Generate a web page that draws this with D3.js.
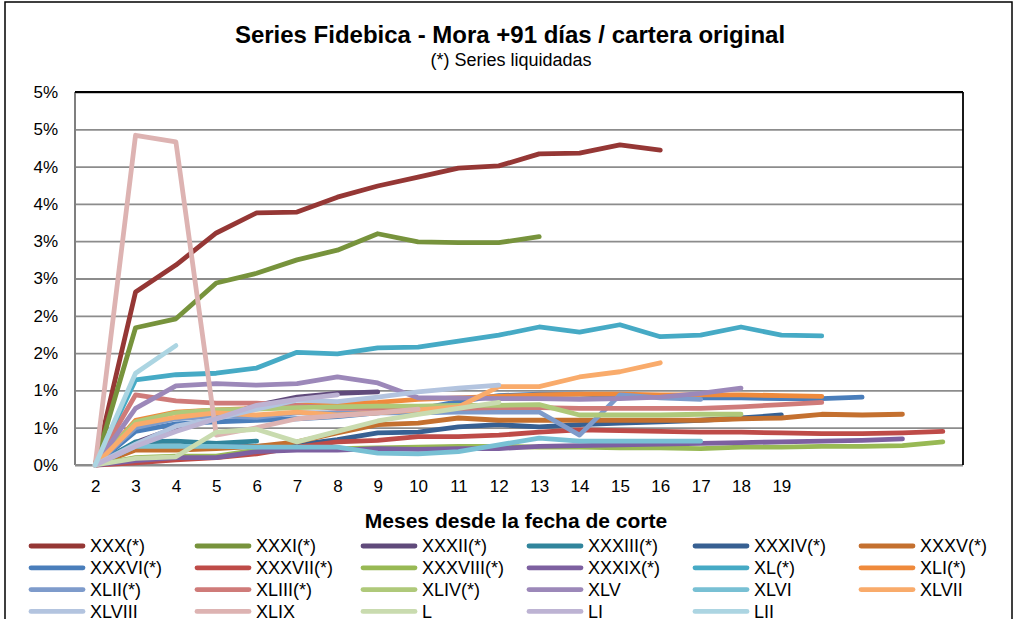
<!DOCTYPE html>
<html>
<head>
<meta charset="utf-8">
<script src="https://cdn.jsdelivr.net/npm/d3@7/dist/d3.min.js"></script>
<style>
body{margin:0;background:#fff;}
text{font-family:Arial,"Liberation Sans",sans-serif;fill:#000;}
</style>
</head>
<body>
<div id="chart"></div>
<script>
// meses desde la fecha de corte (solo se rotulan 2..19)
var meses=[2,3,4,5,6,7,8,9,10,11,12,13,14,15,16,17,18,19,20,21,22,23];
var etiquetasX=["2","3","4","5","6","7","8","9","10","11","12","13","14","15","16","17","18","19","","","",""];
var ticksY=[0,0.5,1,1.5,2,2.5,3,3.5,4,4.5,5];
var etiquetasY=["0%","1%","1%","2%","2%","3%","3%","4%","4%","5%","5%"];

var nombres=["XXX(*)","XXXI(*)","XXXII(*)","XXXIII(*)","XXXIV(*)","XXXV(*)",
    "XXXVI(*)","XXXVII(*)","XXXVIII(*)","XXXIX(*)","XL(*)","XLI(*)",
    "XLII(*)","XLIII(*)","XLIV(*)","XLV","XLVI","XLVII",
    "XLVIII","XLIX","L","LI","LII"];

// mora +91 / cartera original, en %, desde el mes 2
var xxx=[0,2.32,2.68,3.11,3.38,3.39,3.59,3.74,3.86,3.98,4.01,4.17,4.18,4.29,4.22];
var xxxi=[0,1.84,1.96,2.44,2.57,2.75,2.88,3.10,2.99,2.98,2.98,3.06];
var xxxii=[0,0.30,0.50,0.62,0.80,0.91,0.96,0.98];
var xxxiii=[0,0.31,0.32,0.29,0.32];
var xxxiv=[0,0.22,0.22,0.25,0.25,0.27,0.34,0.43,0.44,0.51,0.54,0.51,0.54,0.56,0.58,0.60,0.63,0.67];
var xxxv=[0,0.20,0.20,0.22,0.25,0.31,0.43,0.54,0.56,0.63,0.60,0.60,0.60,0.60,0.60,0.60,0.62,0.63,0.68,0.67,0.68];
var xxxvi=[0,0.45,0.55,0.58,0.60,0.62,0.65,0.70,0.75,0.85,0.93,0.95,0.95,0.93,0.92,0.90,0.90,0.89,0.89,0.91];
var xxxvii=[0,0.03,0.07,0.10,0.15,0.24,0.31,0.33,0.38,0.38,0.40,0.44,0.47,0.46,0.45,0.44,0.44,0.43,0.42,0.42,0.43,0.45];
var xxxviii=[0,0.10,0.12,0.12,0.20,0.22,0.22,0.23,0.24,0.25,0.25,0.24,0.24,0.23,0.23,0.22,0.24,0.24,0.25,0.25,0.26,0.31];
var xxxix=[0,0.06,0.10,0.10,0.18,0.20,0.20,0.22,0.21,0.22,0.22,0.25,0.26,0.27,0.28,0.29,0.30,0.31,0.32,0.33,0.35];
var xl=[0,1.14,1.21,1.23,1.30,1.51,1.49,1.57,1.58,1.66,1.74,1.85,1.78,1.88,1.72,1.74,1.85,1.74,1.73];
var xli=[0,0.60,0.71,0.74,0.76,0.80,0.83,0.84,0.88,0.90,0.92,0.94,0.95,0.95,0.94,0.94,0.94,0.93,0.92];
var xlii=[0,0.50,0.62,0.66,0.64,0.70,0.70,0.70,0.70,0.71,0.71,0.71,0.40,0.94,0.90,0.88];
var xliii=[0,0.94,0.86,0.83,0.83,0.80,0.76,0.76,0.76,0.76,0.77,0.77,0.76,0.76,0.76,0.76,0.78,0.81,0.84];
var xliv=[0,0.58,0.70,0.74,0.75,0.77,0.78,0.79,0.79,0.80,0.80,0.81,0.67,0.67,0.67,0.68,0.68];
var xlv=[0,0.76,1.06,1.09,1.07,1.09,1.18,1.10,0.90,0.90,0.89,0.89,0.88,0.89,0.91,0.96,1.03];
var xlvi=[0,0.25,0.25,0.25,0.24,0.24,0.24,0.16,0.15,0.18,0.27,0.36,0.32,0.32,0.32,0.32];
var xlvii=[0,0.54,0.64,0.70,0.67,0.71,0.67,0.70,0.74,0.78,1.05,1.05,1.18,1.25,1.37];
var xlviii=[0,0.28,0.52,0.62,0.75,0.87,0.85,0.91,0.98,1.03,1.07];
var xlix=[0,4.42,4.33,0.40,0.50,0.62,0.66,0.70,0.75];
var l=[0,0.09,0.11,0.44,0.48,0.31,0.45,0.59,0.68,0.76,0.84];
var li=[0,0.25,0.45,0.62,0.80,0.88,0.94];
var lii=[0,1.23,1.60];

var valores=[xxx,xxxi,xxxii,xxxiii,xxxiv,xxxv,xxxvi,xxxvii,xxxviii,xxxix,xl,xli,
    xlii,xliii,xliv,xlv,xlvi,xlvii,xlviii,xlix,l,li,lii];

var colores=["#953735","#77933c","#604a7b","#31859c","#376092","#c4702f",
    "#4a7ebb","#be4b48","#98b954","#7d60a0","#46aac5","#ef8a3c",
    "#7e9bcb","#cf7b79","#afc97a","#9c88b9","#78c0d4","#f9ab6b",
    "#b3c4df","#ddb3b2","#c9dbaf","#bdb3d3","#acd5e2"];

var width=1015,height=619,
    margin={"left":75,"top":92,"right":52,"bottom":154};
var plotW=width-margin.left-margin.right,
    plotH=height-margin.top-margin.bottom;

var svg=d3.select("#chart")
    .append("svg")
    .attr("width",width)
    .attr("height",height);

svg.append("rect")
    .attr("x",0).attr("y",0)
    .attr("width",width).attr("height",height)
    .style("fill","#fff");

// marco del gráfico
svg.append("rect")
    .attr("x",5).attr("y",2)
    .attr("width",1007).attr("height",700)
    .style("fill","none")
    .style("stroke","#000")
    .style("stroke-width",1.5);

var x=d3.scalePoint()
    .domain(meses)
    .range([0,plotW])
    .padding(0.5);

var y=d3.scaleLinear()
    .domain([0,5])
    .range([plotH,0]);

var g=svg.append("g")
    .attr("transform","translate("+margin.left+","+margin.top+")");

// eje y + grilla
var ejeY=g.append("g")
    .call(d3.axisLeft(y)
        .tickValues(ticksY)
        .tickSize(-plotW)
        .tickPadding(17)
        .tickFormat(function (d,i) {return etiquetasY[i];}));
ejeY.select(".domain").remove();
ejeY.selectAll("line")
    .style("stroke","#8c8c8c")
    .style("stroke-width",1.8);
ejeY.selectAll("text")
    .attr("font-size",17)
    .style("font-family","Arial, 'Liberation Sans', sans-serif");

// eje x
var ejeX=g.append("g")
    .attr("transform","translate(0,"+plotH+")")
    .call(d3.axisBottom(x)
        .tickSize(0)
        .tickPadding(15)
        .tickFormat(function (d,i) {return etiquetasX[i];}));
ejeX.select(".domain").remove();
ejeX.selectAll("text")
    .attr("font-size",17)
    .style("font-family","Arial, 'Liberation Sans', sans-serif");

// bordes del área de trazado
g.append("line")
    .attr("x1",0).attr("y1",0).attr("x2",0).attr("y2",plotH)
    .style("stroke","#7f7f7f").style("stroke-width",2);
g.append("line")
    .attr("x1",0).attr("y1",plotH).attr("x2",plotW).attr("y2",plotH)
    .style("stroke","#8c8c8c").style("stroke-width",2);
g.append("line")
    .attr("x1",0).attr("y1",0).attr("x2",plotW).attr("y2",0)
    .style("stroke","#000").style("stroke-width",1.8);
g.append("line")
    .attr("x1",plotW).attr("y1",0).attr("x2",plotW).attr("y2",plotH)
    .style("stroke","#000").style("stroke-width",1.8);

var linea=d3.line()
    .x(function (d,i) {return x(meses[i]);})
    .y(function (d) {return y(d);});

g.selectAll(".serie")
    .data(valores)
    .enter()
    .append("path")
    .attr("class","serie")
    .attr("d",linea)
    .style("fill","none")
    .style("stroke",function (d,i) {return colores[i];})
    .style("stroke-width",4.8)
    .style("stroke-linejoin","round")
    .style("stroke-linecap","round");

// títulos
svg.append("text")
    .attr("x",510).attr("y",43)
    .attr("text-anchor","middle")
    .attr("font-size",24)
    .attr("font-weight","bold")
    .text("Series Fidebica - Mora +91 días / cartera original");

svg.append("text")
    .attr("x",511).attr("y",66)
    .attr("text-anchor","middle")
    .attr("font-size",18)
    .text("(*) Series liquidadas");

svg.append("text")
    .attr("x",516).attr("y",528)
    .attr("text-anchor","middle")
    .attr("font-size",21)
    .attr("font-weight","bold")
    .text("Meses desde la fecha de corte");

// leyenda 6 columnas
var ley=svg.selectAll(".ley")
    .data(nombres)
    .enter()
    .append("g")
    .attr("class","ley")
    .attr("transform",function (d,i) {
        return "translate("+(31+166*(i%6))+","+(546+21.8*Math.floor(i/6))+")";
    });

ley.append("line")
    .attr("x1",0).attr("x2",52)
    .attr("y1",0).attr("y2",0)
    .style("stroke",function (d,i) {return colores[i];})
    .style("stroke-width",4.8)
    .style("stroke-linecap","round");

ley.append("text")
    .attr("x",59)
    .attr("dy","0.36em")
    .attr("font-size",18)
    .text(function (d) {return d;});
</script>
</body>
</html>
